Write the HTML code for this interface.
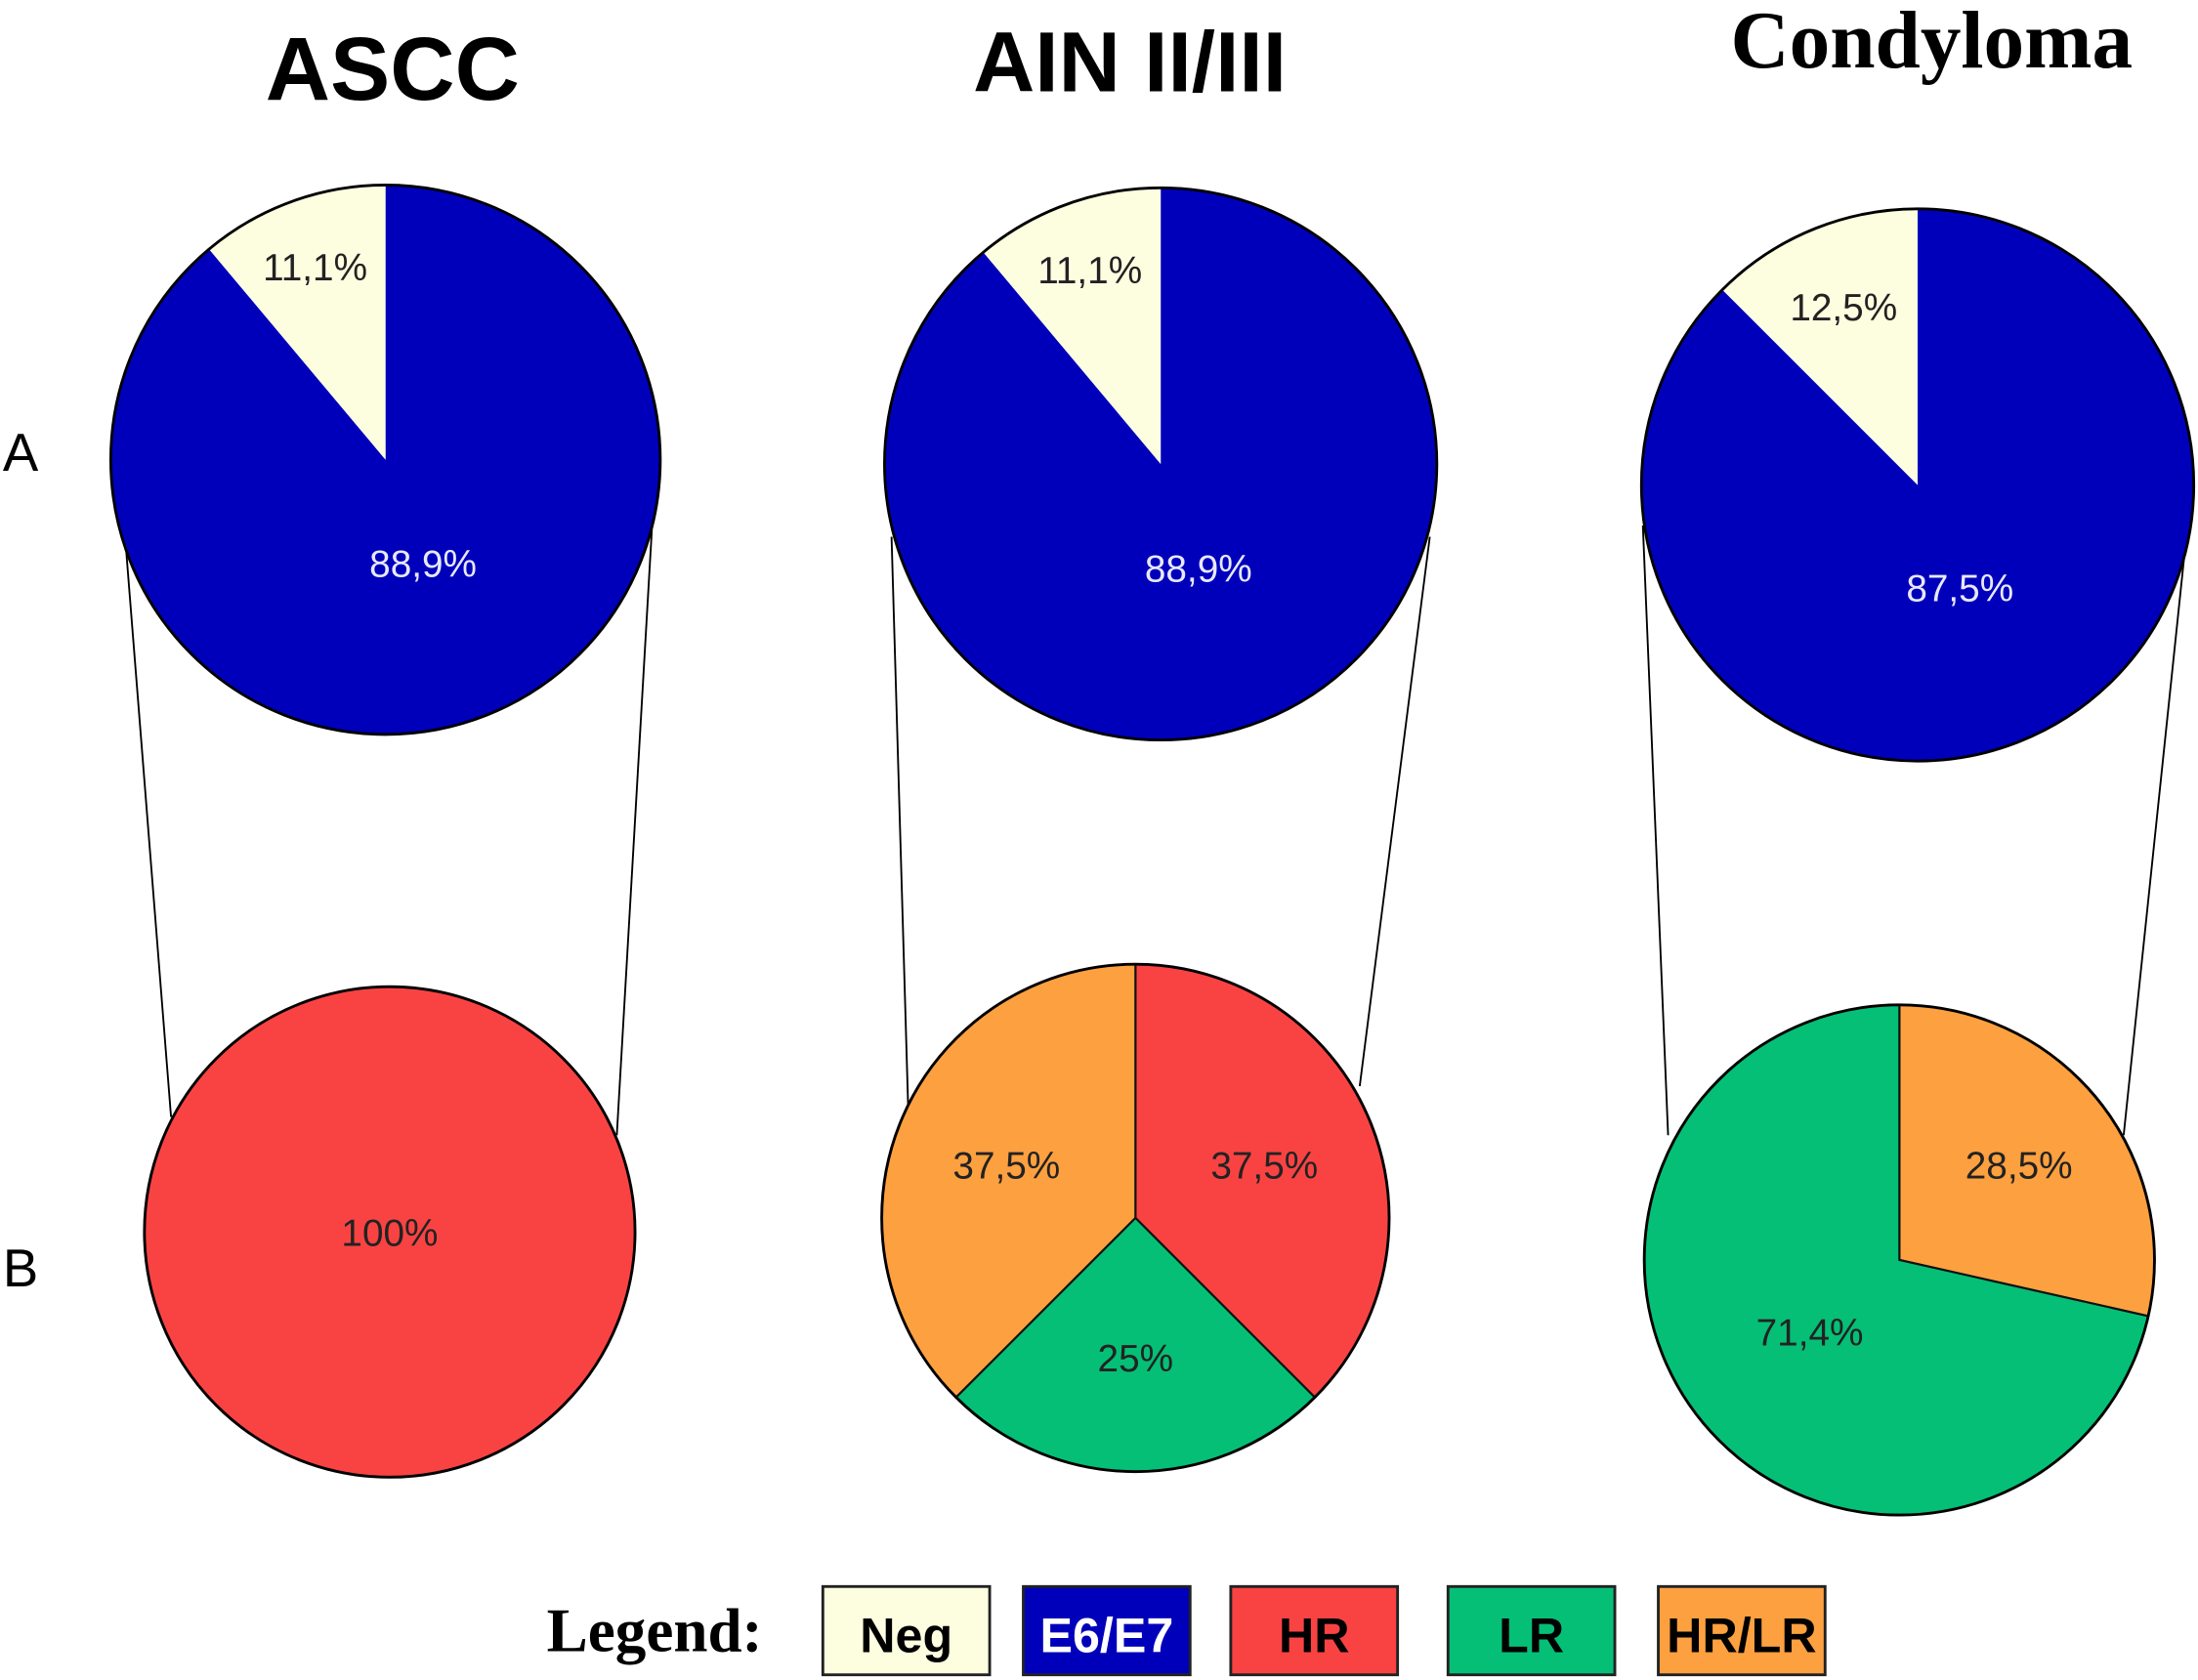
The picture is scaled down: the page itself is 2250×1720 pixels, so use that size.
<!DOCTYPE html>
<html><head><meta charset="utf-8"><style>
html,body{margin:0;padding:0;background:#fff;}
svg{display:block;}
</style></head><body>
<svg id="chart" width="2250" height="1720" viewBox="0 0 1568 1198.7" xmlns="http://www.w3.org/2000/svg">
<rect x="0" y="0" width="1568" height="1200" fill="#fff"/>
<text x="280" y="71" text-anchor="middle" font-family="Liberation Sans, sans-serif" font-weight="bold" font-size="64">ASCC</text>
<text x="806" y="65" text-anchor="middle" font-family="Liberation Sans, sans-serif" font-weight="bold" font-size="61">AIN II/III</text>
<text x="1378" y="48" text-anchor="middle" font-family="Liberation Serif, serif" font-weight="bold" font-size="58">Condyloma</text>
<text x="2" y="336" font-family="Liberation Sans, sans-serif" font-size="38">A</text>
<text x="2" y="918" font-family="Liberation Sans, sans-serif" font-size="38">B</text>
<g id="connectors" stroke="#000" stroke-width="1.3" fill="none"></g>
<g id="pies"></g>
<g id="legend">
<text x="390" y="1178" font-family="Liberation Serif, serif" font-weight="bold" font-size="44">Legend:</text>
</g>
</svg>
<script>
const categories = ["Neg", "E6/E7", "HR", "LR", "HR/LR"];
const colors = {"Neg":"#fdfde0","E6/E7":"#0000bb","HR":"#f94343","LR":"#05bf77","HR/LR":"#fda040"};
// pie slice values (percent), drawn clockwise from 12 o'clock
const pieA1Cats = ["E6/E7","Neg"]; const pieA1Vals = [88.9, 11.1];
const pieA2Cats = ["E6/E7","Neg"]; const pieA2Vals = [88.9, 11.1];
const pieA3Cats = ["E6/E7","Neg"]; const pieA3Vals = [87.5, 12.5];
const pieB1Cats = ["HR"]; const pieB1Vals = [100];
const pieB2Cats = ["HR","LR","HR/LR"]; const pieB2Vals = [37.5, 25, 37.5];
const pieB3Cats = ["HR/LR","LR"]; const pieB3Vals = [28.5, 71.4];
const pieA1Labels = ["88,9%","11,1%"];
const pieA2Labels = ["88,9%","11,1%"];
const pieA3Labels = ["87,5%","12,5%"];
const pieB1Labels = ["100%"];
const pieB2Labels = ["37,5%","25%","37,5%"];
const pieB3Labels = ["28,5%","71,4%"];

const NS = "http://www.w3.org/2000/svg";
const piesG = document.getElementById("pies");
const layout = [
  {name:"pie-a-ascc", cx:275, cy:328, r:196, kBig:0.4, kSmall:0.75, cats:pieA1Cats, vals:pieA1Vals, labels:pieA1Labels, white:["E6/E7"]},
  {name:"pie-a-ain", cx:828, cy:331, r:197, kBig:0.4, kSmall:0.75, cats:pieA2Cats, vals:pieA2Vals, labels:pieA2Labels, white:["E6/E7"]},
  {name:"pie-a-condyloma", cx:1368, cy:346, r:197, kBig:0.4, kSmall:0.7, cats:pieA3Cats, vals:pieA3Vals, labels:pieA3Labels, white:["E6/E7"]},
  {name:"pie-b-ascc", cx:278, cy:879, r:175, kBig:0, kSmall:0, cats:pieB1Cats, vals:pieB1Vals, labels:pieB1Labels, white:[]},
  {name:"pie-b-ain", cx:810, cy:869, r:181, kBig:0.55, kSmall:0.55, cats:pieB2Cats, vals:pieB2Vals, labels:pieB2Labels, white:[]},
  {name:"pie-b-condyloma", cx:1355, cy:899, r:182, kBig:0.45, kSmall:0.6, cats:pieB3Cats, vals:pieB3Vals, labels:pieB3Labels, white:[]}
];
function pt(cx, cy, r, a){ return [cx + r*Math.sin(a), cy - r*Math.cos(a)]; }
layout.forEach(p => {
  const g = document.createElementNS(NS, "g");
  
  
  const total = p.vals.reduce((s,v)=>s+v,0);
  let a = 0;
  p.vals.forEach((v,i) => {
    const frac = v/total;
    const a0 = a, a1 = a + frac*2*Math.PI;
    a = a1;
    let el;
    if (frac >= 0.9999) {
      el = document.createElementNS(NS, "circle");
      el.setAttribute("cx", p.cx); el.setAttribute("cy", p.cy); el.setAttribute("r", p.r);
    } else {
      const [x0,y0] = pt(p.cx,p.cy,p.r,a0), [x1,y1] = pt(p.cx,p.cy,p.r,a1);
      el = document.createElementNS(NS, "path");
      el.setAttribute("d", `M${p.cx},${p.cy} L${x0},${y0} A${p.r},${p.r} 0 ${frac>0.5?1:0} 1 ${x1},${y1} Z`);
    }
    
    
    el.setAttribute("fill", colors[p.cats[i]]);
    el.setAttribute("stroke", p.cats[i]==="E6/E7" || p.cats[i]==="Neg" ? "none" : "#111");
    el.setAttribute("stroke-width", "1.5");
    g.appendChild(el);
    const mid = (a0+a1)/2;
    const k = frac >= 0.9999 ? 0 : (frac > 0.5 ? p.kBig : p.kSmall);
    const [lx,ly] = pt(p.cx,p.cy,p.r*k,mid);
    const t = document.createElementNS(NS, "text");
    
    
    t.setAttribute("x", lx); t.setAttribute("y", ly + 10);
    t.setAttribute("text-anchor", "middle");
    t.setAttribute("font-family", "Liberation Sans, sans-serif");
    t.setAttribute("font-size", "27");
    t.setAttribute("fill", p.white.includes(p.cats[i]) ? "#e8e8ff" : "#222");
    t.textContent = p.labels[i];
    g.appendChild(t);
  });
  const outline = document.createElementNS(NS, "circle");
  
  
  outline.setAttribute("cx", p.cx); outline.setAttribute("cy", p.cy); outline.setAttribute("r", p.r);
  outline.setAttribute("fill", "none"); outline.setAttribute("stroke", "#000"); outline.setAttribute("stroke-width", "2");
  g.appendChild(outline);
  piesG.appendChild(g);
});
const conn = document.getElementById("connectors");
[[90,393,122,797],[465,378,440,810],[636,383,648,795],[1020,383,970,775],[1172,375,1190,810],[1560,380,1515,810]].forEach(c => {
  const l = document.createElementNS(NS, "line");
  
  
  l.setAttribute("x1", c[0]); l.setAttribute("y1", c[1]); l.setAttribute("x2", c[2]); l.setAttribute("y2", c[3]);
  conn.appendChild(l);
});
const leg = document.getElementById("legend");
const boxX = [587, 730, 878, 1033, 1183];
categories.forEach((c,i) => {
  const r = document.createElementNS(NS, "rect");
  
  
  r.setAttribute("x", boxX[i]); r.setAttribute("y", 1132); r.setAttribute("width", 119); r.setAttribute("height", 63);
  r.setAttribute("fill", colors[c]); r.setAttribute("stroke", "#222"); r.setAttribute("stroke-width", "2");
  leg.appendChild(r);
  const t = document.createElementNS(NS, "text");
  
  
  t.setAttribute("x", boxX[i] + 59.5); t.setAttribute("y", 1179);
  t.setAttribute("text-anchor", "middle");
  t.setAttribute("font-family", "Liberation Sans, sans-serif");
  t.setAttribute("font-weight", "bold");
  t.setAttribute("font-size", "35");
  t.setAttribute("fill", c==="E6/E7" ? "#fff" : "#000");
  t.textContent = c;
  leg.appendChild(t);
});
</script>
</body></html>
